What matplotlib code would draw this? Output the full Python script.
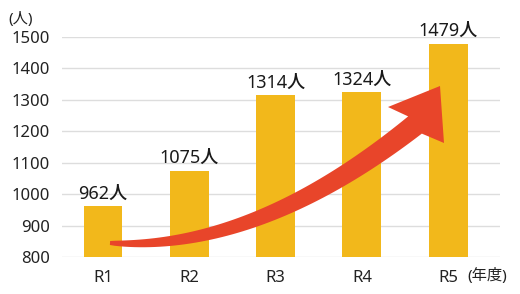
import matplotlib.pyplot as plt
import numpy as np

plt.rcParams['font.family'] = ['Noto Sans', 'Noto Sans CJK JP', 'DejaVu Sans']

years = ['R1', 'R2', 'R3', 'R4', 'R5']
people = [962, 1075, 1314, 1324, 1479]
yticks = [800, 900, 1000, 1100, 1200, 1300, 1400, 1500]

W, H = 520, 294
fig = plt.figure(figsize=(W / 100, H / 100), dpi=100)
ax = fig.add_axes([62 / W, (H - 257) / H, 438 / W, 220 / H])

x = np.arange(len(years))
ax.bar(x, people, width=0.45, color='#F2B81B', zorder=2)
for i, v in enumerate(people):
    ax.annotate(f'{v}人', (i, v), xytext=(0, 2.5), textcoords='offset points',
                ha='center', va='bottom', fontsize=13, fontweight='medium',
                color='#1a1a1a')

ax.set_ylim(800, 1500)
ax.set_xlim(-0.475, 4.6)
ax.set_yticks(yticks)
ax.set_xticks(x)
ax.set_xticklabels(years)
ax.grid(axis='y', color='#dddddd', linewidth=1, zorder=0)
for s in ax.spines.values():
    s.set_visible(False)
ax.tick_params(length=0, labelsize=12, colors='#222222')
ax.tick_params(axis='y', pad=9)
ax.tick_params(axis='x', pad=9)

fig.text(8 / W, 1 - 19 / H, '(人)', fontsize=11, va='center', ha='left', color='#222222')
fig.text(467 / W, 1 - 276 / H, '(年度)', fontsize=11, va='center', ha='left', color='#222222')

# curved arrow, pixel space (y downward)
p0 = np.array([110, 243.0])
p1 = np.array([255, 252.0])
p2 = np.array([415, 125.0])
t = np.linspace(0, 1, 60)[:, None]
c = (1 - t) ** 2 * p0 + 2 * (1 - t) * t * p1 + t ** 2 * p2
d = 2 * (1 - t) * (p1 - p0) + 2 * t * (p2 - p1)
d = d / np.linalg.norm(d, axis=1, keepdims=True)
n = np.column_stack([-d[:, 1], d[:, 0]])
w = (4 + 18 * t[:, 0] ** 0.7)[:, None] / 2
upper = c + n * w
lower = c - n * w
head = np.array([[388, 107], [440, 86], [444, 143]])
poly = np.vstack([upper, head[2:3], head[1:2], head[0:1], lower[::-1]])
poly = np.column_stack([poly[:, 0] / W, 1 - poly[:, 1] / H])
fig.patches.append(plt.Polygon(poly, closed=True, transform=fig.transFigure,
                               facecolor='#E8452A', edgecolor='none', zorder=5))

fig.savefig('out.png', dpi=100)
